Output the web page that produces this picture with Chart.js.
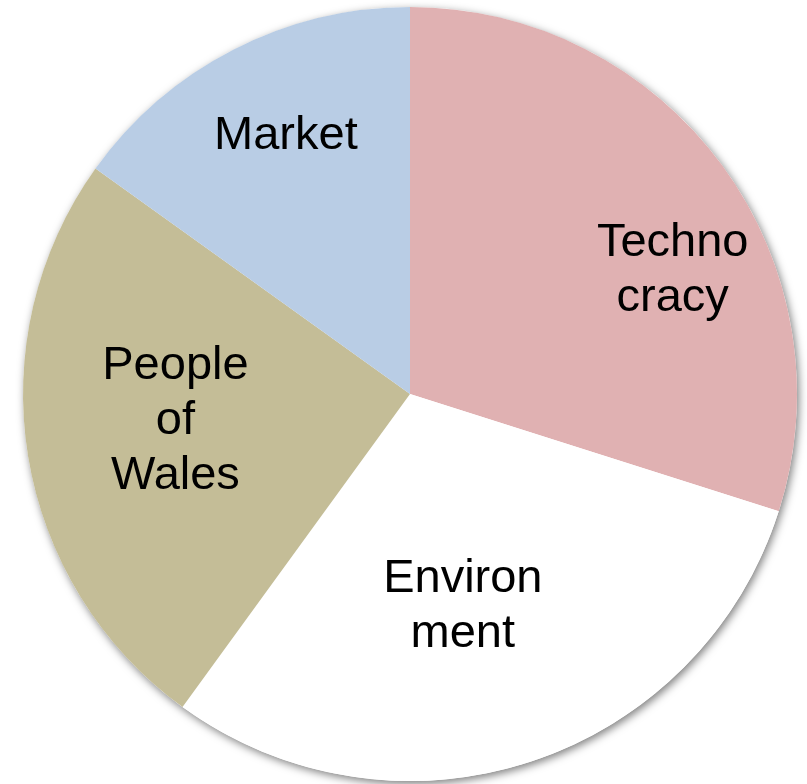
<!DOCTYPE html>
<html>
<head>
<meta charset="utf-8">
<script src="https://cdn.jsdelivr.net/npm/chart.js@4.4.0/dist/chart.umd.min.js"></script>
<style>
  html, body { margin:0; padding:0; background:#fff; }
  #wrap { width:807px; height:784px; position:relative; }
</style>
</head>
<body>
<div id="wrap"><canvas id="pie"></canvas></div>
<script>
const labels = [['Techno','cracy'], ['Environ','ment'], ['People','of','Wales'], ['Market']];
const shares = [29.9, 30.1, 24.9, 15.1];
const colours = ['#e0b1b2', '#ffffff', '#c4bd97', '#b9cde5'];

// where each label sits: fraction of radius, and turn (degrees) from the slice's mid-angle
const placement = [
  { frac:0.75, turn:11 },
  { frac:0.565, turn:4.2 },
  { frac:0.61, turn:2.7 },
  { frac:0.74, turn:1.5 }
];

const shadowDisc = {
  id:'shadowDisc',
  beforeDatasetsDraw(chart){
    const arc = chart.getDatasetMeta(0).data[0];
    if(!arc) return;
    const ctx = chart.ctx;
    ctx.save();
    ctx.shadowColor = 'rgba(0,0,0,0.5)';
    ctx.shadowBlur = 8;
    ctx.shadowOffsetX = 2;
    ctx.shadowOffsetY = 3;
    ctx.fillStyle = '#fff';
    ctx.beginPath();
    ctx.arc(arc.x, arc.y, arc.outerRadius, 0, Math.PI*2);
    ctx.fill();
    ctx.restore();
  }
};

const sliceLabels = {
  id:'sliceLabels',
  afterDatasetsDraw(chart){
    const ctx = chart.ctx;
    const lineH = 55;
    ctx.save();
    ctx.font = '47px "Liberation Sans", Arial, sans-serif';
    ctx.fillStyle = '#000';
    ctx.textAlign = 'center';
    ctx.textBaseline = 'middle';
    chart.getDatasetMeta(0).data.forEach((arc,i)=>{
      const p = placement[i];
      const a = (arc.startAngle + arc.endAngle)/2 + p.turn*Math.PI/180;
      const r = arc.outerRadius * p.frac;
      const x = arc.x + Math.cos(a)*r, y = arc.y + Math.sin(a)*r;
      const lines = labels[i];
      lines.forEach((t,j)=> ctx.fillText(t, x, y + (j - (lines.length-1)/2)*lineH));
    });
    ctx.restore();
  }
};

new Chart(document.getElementById('pie'), {
  type:'pie',
  data:{ labels: labels.map(l=>l.join(' ')), datasets:[{ data:shares, backgroundColor:colours, borderWidth:0, hoverOffset:0 }] },
  options:{
    responsive:true, maintainAspectRatio:false, animation:false,
    layout:{ padding:{ left:23, right:10, top:7, bottom:3 } },
    plugins:{ legend:{display:false}, tooltip:{enabled:false} }
  },
  plugins:[shadowDisc, sliceLabels]
});
</script>
</body>
</html>
